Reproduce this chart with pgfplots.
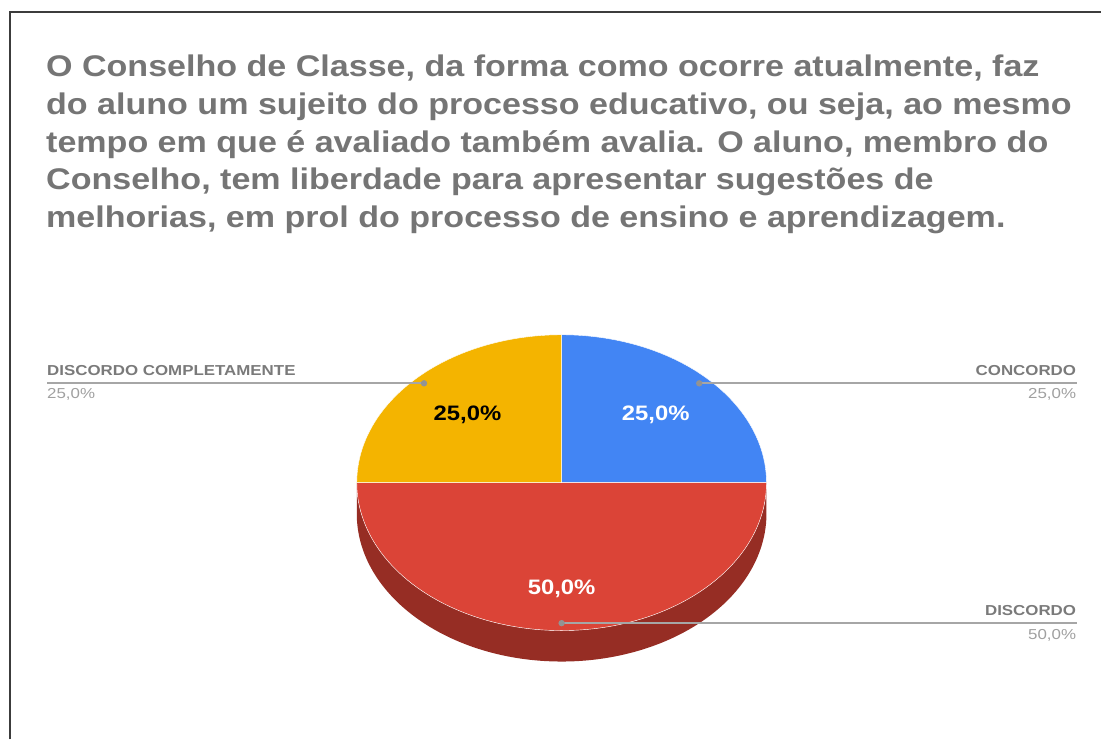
\documentclass[border=0pt]{standalone}
\usepackage{pgfplots}
\pgfplotsset{compat=1.18}
\usepackage{pgfplotstable}
\usepackage{fontspec}
\setmainfont{Liberation Sans}
\newfontfamily\wf[FakeStretch=1.14]{Liberation Sans}
\newfontfamily\lf[FakeStretch=1.17]{Liberation Sans}
\definecolor{gblue}{HTML}{4285F4}
\definecolor{gred}{HTML}{DB4437}
\definecolor{gyellow}{HTML}{F4B400}
\definecolor{gside}{HTML}{962D24}
\definecolor{ttl}{HTML}{757575}
\definecolor{lbl}{HTML}{7A7A7A}
\definecolor{pct}{HTML}{A0A0A0}
\definecolor{lead}{HTML}{A6A6A6}
\definecolor{frame}{HTML}{3C3C3C}

\pgfplotstableread[col sep=comma]{
name,value
CONCORDO,25
DISCORDO,50
DISCORDO COMPLETAMENTE,25
}\piedata

\begin{document}
\begin{tikzpicture}
\pgfplotstablegetelem{0}{value}\of\piedata \pgfmathsetmacro\vA{\pgfplotsretval}
\pgfplotstablegetelem{1}{value}\of\piedata \pgfmathsetmacro\vB{\pgfplotsretval}
\pgfplotstablegetelem{2}{value}\of\piedata \pgfmathsetmacro\vC{\pgfplotsretval}
\pgfmathsetmacro\sA{90}
\pgfmathsetmacro\eA{\sA-3.6*\vA}
\pgfmathsetmacro\eB{\eA-3.6*\vB}
\pgfmathsetmacro\eC{\eB-3.6*\vC}
\pgfmathsetmacro\mA{(\sA+\eA)/2}
\pgfmathsetmacro\mB{(\eA+\eB)/2}
\pgfmathsetmacro\mC{(\eB+\eC)/2}
\def\cx{562}\def\cy{257}\def\rx{205}\def\ry{148}\def\dep{31}
\begin{axis}[
  scale only axis, width=1102bp, height=740bp,
  xmin=0, xmax=1102, ymin=0, ymax=740,
  hide axis, clip=false]
\path (axis cs:0,0) rectangle (axis cs:1102,740);
% frame
\draw[frame, line width=1.5bp] (axis cs:10,0) -- (axis cs:10,728) -- (axis cs:1102,728);
% title
\begin{scope}[every node/.style={anchor=base west, inner sep=0pt, text=ttl, font=\wf\bfseries\fontsize{30}{36}\selectfont}]
\node at (axis cs:46,663.3) {O Conselho de Classe, da forma como ocorre atualmente, faz};
\node at (axis cs:46,625.5) {do aluno um sujeito do processo educativo, ou seja, ao mesmo};
\node at (axis cs:46,587.7) {tempo em que é avaliado também avalia. O aluno, membro do};
\node at (axis cs:46,549.9) {Conselho, tem liberdade para apresentar sugestões de};
\node at (axis cs:46,512.1) {melhorias, em prol do processo de ensino e aprendizagem.};
\end{scope}
% side
\fill[gside] (axis cs:{\cx+\rx*cos(\eA)},{\cy+\ry*sin(\eA)}) arc[start angle=\eA, end angle=\eB, x radius=\rx, y radius=\ry]
  -- (axis cs:{\cx+\rx*cos(\eB)},{\cy-\dep+\ry*sin(\eB)}) arc[start angle=\eB, end angle=\eA, x radius=\rx, y radius=\ry] -- cycle;
% slices
\filldraw[fill=gblue, draw=white, line width=0.4bp] (axis cs:\cx,\cy) -- (axis cs:{\cx+\rx*cos(\sA)},{\cy+\ry*sin(\sA)}) arc[start angle=\sA, end angle=\eA, x radius=\rx, y radius=\ry] -- cycle;
\filldraw[fill=gred, draw=white, line width=0.4bp] (axis cs:\cx,\cy) -- (axis cs:{\cx+\rx*cos(\eA)},{\cy+\ry*sin(\eA)}) arc[start angle=\eA, end angle=\eB, x radius=\rx, y radius=\ry] -- cycle;
\filldraw[fill=gyellow, draw=white, line width=0.4bp] (axis cs:\cx,\cy) -- (axis cs:{\cx+\rx*cos(\eB)},{\cy+\ry*sin(\eB)}) arc[start angle=\eB, end angle=\eC, x radius=\rx, y radius=\ry] -- cycle;
% inside labels
\begin{scope}[every node/.style={inner sep=0pt, font=\wf\bfseries\fontsize{21}{25}\selectfont}]
\node[text=white] at (axis cs:{\cx+0.65*\rx*cos(\mA)},{\cy+0.65*\ry*sin(\mA)}) {25,0\%};
\node[text=white] at (axis cs:{\cx+0.72*\rx*cos(\mB)},{\cy+0.72*\ry*sin(\mB)}) {50,0\%};
\node[text=black] at (axis cs:{\cx+0.65*\rx*cos(\mC)},{\cy+0.65*\ry*sin(\mC)}) {25,0\%};
\end{scope}
% leader lines
\draw[lead, line width=2bp] (axis cs:{\cx+0.95*\rx*cos(\mA)},{\cy+0.95*\ry*sin(\mA)}) -- (axis cs:1078,{\cy+0.95*\ry*sin(\mA)});
\draw[lead, line width=2bp] (axis cs:{\cx+0.95*\rx*cos(\mB)},{\cy+0.95*\ry*sin(\mB)}) -- (axis cs:1078,{\cy+0.95*\ry*sin(\mB)});
\draw[lead, line width=2bp] (axis cs:{\cx+0.95*\rx*cos(\mC)},{\cy+0.95*\ry*sin(\mC)}) -- (axis cs:47,{\cy+0.95*\ry*sin(\mC)});
\fill[gray!85] (axis cs:{\cx+0.95*\rx*cos(\mA)},{\cy+0.95*\ry*sin(\mA)}) circle[radius=3.2];
\fill[gray!85] (axis cs:{\cx+0.95*\rx*cos(\mB)},{\cy+0.95*\ry*sin(\mB)}) circle[radius=3.2];
\fill[gray!85] (axis cs:{\cx+0.95*\rx*cos(\mC)},{\cy+0.95*\ry*sin(\mC)}) circle[radius=3.2];
% outside labels
\begin{scope}[every node/.style={inner sep=0pt}]
\node[anchor=base east, text=lbl, font=\lf\bfseries\fontsize{14.5}{17}\selectfont] at (axis cs:1077,364) {CONCORDO};
\node[anchor=base east, text=pct, font=\lf\fontsize{14.5}{17}\selectfont] at (axis cs:1077,341) {25,0\%};
\node[anchor=base east, text=lbl, font=\lf\bfseries\fontsize{14.5}{17}\selectfont] at (axis cs:1077,124) {DISCORDO};
\node[anchor=base east, text=pct, font=\lf\fontsize{14.5}{17}\selectfont] at (axis cs:1077,100) {50,0\%};
\node[anchor=base west, text=lbl, font=\lf\bfseries\fontsize{14.5}{17}\selectfont] at (axis cs:47,364) {DISCORDO COMPLETAMENTE};
\node[anchor=base west, text=pct, font=\lf\fontsize{14.5}{17}\selectfont] at (axis cs:47,341) {25,0\%};
\end{scope}
\end{axis}
\end{tikzpicture}
\end{document}
